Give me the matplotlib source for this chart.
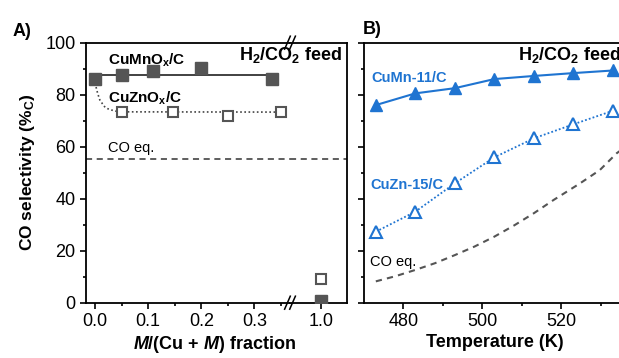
#CO selectivity: M/(Cu+M) fraction and temperature

import matplotlib
matplotlib.use("Agg")
import matplotlib.pyplot as plt

plt.rcParams["font.family"] = ["Liberation Sans", "DejaVu Sans"]
plt.rcParams["mathtext.fontset"] = "custom"
plt.rcParams["mathtext.rm"] = "Liberation Sans"
plt.rcParams["mathtext.bf"] = "Liberation Sans:bold"
plt.rcParams["mathtext.it"] = "Liberation Sans:italic"
plt.rcParams["mathtext.bfit"] = "Liberation Sans:bold:italic"

#Data panel A
mn_frac = [0.0, 0.05, 0.11, 0.20, 0.333]
mn_sel = [85.9, 87.6, 89.2, 90.2, 85.9]
mn_fit_x = [0.0, 0.333]
mn_fit_y = [87.6, 87.6]
zn_frac = [0.05, 0.146, 0.251, 0.35]
zn_sel = [73.2, 73.2, 71.9, 73.5]
zn_fit_x = [0.0, 0.005, 0.009, 0.014, 0.018, 0.024, 0.031, 0.038, 0.047, 0.35]
zn_fit_y = [84.5, 80.5, 78.0, 76.5, 75.4, 74.6, 74.1, 73.7, 73.4, 73.3]
pure_frac = [1.0]
pure_mn = [0.5]
pure_zn = [9.0]
co_eq_a = 55.3

#Data panel B
temp = [473, 483, 493, 503, 513, 523, 533]
cumn11 = [76.0, 80.5, 82.5, 86.0, 87.2, 88.3, 89.3]
cuzn15 = [27.3, 35.0, 45.9, 55.9, 63.2, 68.6, 73.8]
eq_temp = [473, 478, 483, 488, 493, 498, 503, 508, 513, 518, 524.7, 529.7, 534, 540]
eq_sel = [8.2, 10.2, 12.6, 15.2, 18.3, 21.6, 25.4, 29.7, 34.4, 39.5, 45.9, 51.0, 57.5, 64.0]

blue = "#1f74d1"
grey = "#555555"
fs = 13

fig = plt.figure(figsize=(6.19, 3.58), dpi=100)
bot, hgt = 0.1545, 0.7263
ax1 = fig.add_axes([0.1389, bot, 0.3296, hgt])
ax2 = fig.add_axes([0.4685, bot, 0.0916, hgt], sharey=ax1)
ax3 = fig.add_axes([0.588, bot, 0.4467, hgt])

for ax in (ax1, ax2, ax3):
    for s in ax.spines.values():
        s.set_linewidth(1.3)
    ax.tick_params(labelsize=fs, width=1.2, length=4, direction="out")
    ax.tick_params(which="minor", width=1.2, length=2.5, direction="out")
    ax.set_ylim(0, 100)

#Panel A left part
ax1.plot(mn_fit_x, mn_fit_y, color="#333333", lw=1.3, zorder=2)
ax1.plot(zn_fit_x, zn_fit_y, color="#444444", lw=1.2, ls=(0, (1, 1.5)), zorder=2)
ax1.plot(mn_frac, mn_sel, "s", ms=8, color=grey, mec=grey, zorder=3)
ax1.plot(zn_frac, zn_sel, "s", ms=7, mfc="white", mec=grey, mew=1.5, zorder=3)
ax1.axhline(co_eq_a, color="#333333", lw=1.1, ls=(0, (4, 3)))
ax1.set_xlim(-0.017, 0.367)
ax1.set_xticks([0.0, 0.1, 0.2, 0.3])
ax1.set_xticks([0.05, 0.15, 0.25, 0.35], minor=True)
ax1.set_yticks([0, 20, 40, 60, 80, 100])
ax1.set_yticks([10, 30, 50, 70, 90], minor=True)
ax1.spines["right"].set_visible(False)
ax1.text(0.024, 93.3, r"CuMnO$_\mathbf{x}$/C", fontsize=11, fontweight="bold", va="center")
ax1.text(0.024, 78.5, r"CuZnO$_\mathbf{x}$/C", fontsize=11, fontweight="bold", va="center")
ax1.text(0.024, 59.5, "CO eq.", fontsize=10.5, va="center")
ax1.set_ylabel(r"CO selectivity (%$_\mathbf{C}$)", fontsize=12.5, fontweight="bold", labelpad=6)
ax1.set_xlabel(r"$\mathbfit{M}$/(Cu + $\mathbfit{M}$) fraction", fontsize=13,
               fontweight="bold", labelpad=3, x=0.63)

#Panel A right part (after break)
ax2.plot(pure_frac, pure_mn, "s", ms=8, color=grey, mec=grey, zorder=3)
ax2.plot(pure_frac, pure_zn, "s", ms=7, mfc="white", mec=grey, mew=1.5, zorder=3)
ax2.axhline(co_eq_a, color="#333333", lw=1.1, ls=(0, (4, 3)))
ax2.set_xlim(0.9415, 1.0485)
ax2.set_xticks([1.0])
ax2.set_xticklabels(["1.0"])
ax2.set_xticks([], minor=True)
ax2.spines["left"].set_visible(False)
ax2.tick_params(axis="y", which="both", left=False, right=False, labelleft=False)
ax2.text(0.912, 95.3, r"H$_\mathbf{2}$/CO$_\mathbf{2}$ feed", transform=ax2.get_yaxis_transform(),
         fontsize=13, fontweight="bold", ha="right", va="center")

#break marks
for yb in (0.0, 1.0):
    for dx in (-0.045, 0.045):
        ax2.plot([dx - 0.05, dx + 0.05], [yb - 0.025, yb + 0.025], color="black", lw=1.1,
                 transform=ax2.transAxes, clip_on=False, zorder=5)

#Panel B
ax3.plot(eq_temp, eq_sel, color=grey, lw=1.5, ls=(0, (3, 2.5)))
ax3.plot(temp, cumn11, "-^", color=blue, lw=1.5, ms=8.5)
ax3.plot(temp, cuzn15, "^", ls=(0, (1, 1.2)), color=blue, lw=1.3, ms=8.5, mfc="white", mew=1.5)
ax3.set_xlim(470, 540)
ax3.set_xticks([480, 500, 520])
ax3.set_xticks([490, 510, 530], minor=True)
ax3.set_yticks([0, 20, 40, 60, 80, 100])
ax3.set_yticks([10, 30, 50, 70, 90], minor=True)
ax3.tick_params(axis="y", labelleft=False)
ax3.text(472, 86.4, "CuMn-11/C", color=blue, fontsize=10.5, fontweight="bold", va="center")
ax3.text(471.5, 45.3, "CuZn-15/C", color=blue, fontsize=10.5, fontweight="bold", va="center")
ax3.text(471.5, 15.8, "CO eq.", fontsize=10.5, va="center")
ax3.text(509, 95.3, r"H$_\mathbf{2}$/CO$_\mathbf{2}$ feed", fontsize=13, fontweight="bold",
         va="center")
ax3.set_xlabel("Temperature (K)", fontsize=13, fontweight="bold", labelpad=3, x=0.474)

fig.text(13 / 619, 1 - 31 / 358, "A)", fontsize=13, fontweight="bold", va="center")
fig.text(363 / 619, 1 - 29 / 358, "B)", fontsize=13, fontweight="bold", va="center")

fig.savefig("out.png", dpi=100)
